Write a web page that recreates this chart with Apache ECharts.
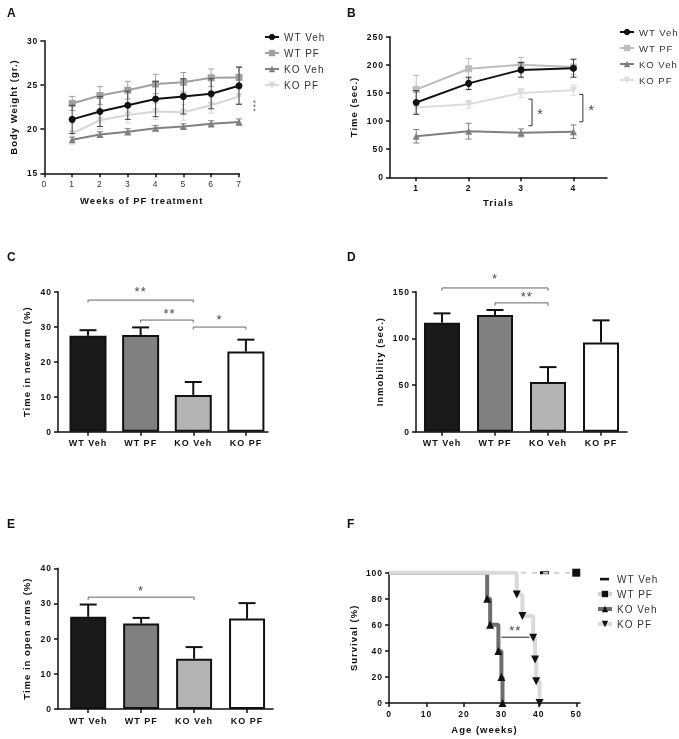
<!DOCTYPE html>
<html><head><meta charset="utf-8">
<script src="https://cdn.jsdelivr.net/npm/echarts@6/dist/echarts.min.js"></script>
<style>
body{margin:0;background:#fff;width:679px;height:739px;position:relative;overflow:hidden}
.p{position:absolute;will-change:transform;opacity:0.999}
svg text{letter-spacing:1px}
</style></head><body>
<div id="A" class="p" style="left:0;top:0;width:340px;height:240px"></div>
<div id="B" class="p" style="left:340px;top:0;width:339px;height:240px"></div>
<div id="C" class="p" style="left:0;top:240px;width:340px;height:260px"></div>
<div id="D" class="p" style="left:340px;top:240px;width:339px;height:260px"></div>
<div id="E" class="p" style="left:0;top:500px;width:340px;height:239px"></div>
<div id="F" class="p" style="left:340px;top:500px;width:339px;height:239px"></div>
<script>
// ---------- DATA ----------
const groupNames = ['WT Veh', 'WT PF', 'KO Veh', 'KO PF'];
const barPositions = [1, 2, 3, 4];

// A: body weight
const weeks = [1, 2, 3, 4, 5, 6, 7];
const bwWTVeh = [21.1, 22.0, 22.7, 23.4, 23.7, 24.0, 24.9];
const bwWTVehErr = [1.6, 1.7, 1.6, 2.0, 2.0, 1.7, 2.1];
const bwWTPF = [22.9, 23.8, 24.4, 25.1, 25.3, 25.8, 25.85];
const bwWTPFErr = [0.8, 1.0, 1.0, 1.1, 1.1, 1.0, 1.2];
const bwKOVeh = [18.8, 19.4, 19.7, 20.1, 20.3, 20.6, 20.8];
const bwKOVehErr = [0.3, 0.3, 0.35, 0.3, 0.3, 0.35, 0.35];
const bwKOPF = [19.5, 21.0, 21.6, 22.0, 21.9, 22.7, 23.7];
const bwKOPFErr = [1.2, 1.0, 0.9, 0.9, 0.9, 0.9, 0.8];

// B: trials
const trials = [1, 2, 3, 4];
const trWTVeh = [133, 167, 191, 194];
const trWTVehErr = [21, 11, 13, 16];
const trWTPF = [156, 193, 200, 196];
const trWTPFErr = [25, 18, 13, 13];
const trKOVeh = [73, 82, 79, 81];
const trKOVehErr = [12, 14, 7, 12];
const trKOPF = [124, 130, 150, 155];
const trKOPFErr = [10, 7, 8, 9];

// C: time in new arm (%)
const newArm = [27.4, 27.6, 10.5, 22.9];
const newArmErr = [1.6, 2.2, 3.7, 3.4];
// D: immobility (sec.)
const immob = [116.8, 125, 53.2, 95.7];
const immobErr = [10, 5.4, 16, 23.6];
// E: time in open arms (%)
const openArms = [26.2, 24.3, 14.3, 25.7];
const openArmsErr = [3.5, 1.6, 3.3, 4.4];

// F: survival (Kaplan-Meier events: [age, survival %])
const survWTVeh = [[0, 100], [41.5, 100]];
const survWTPF = [[0, 100], [50, 100]];
const survKOVeh = [[0, 100], [26.2, 80], [27.0, 60], [29.2, 40], [30.0, 20], [30.3, 0]];
const survKOPF = [[0, 100], [34.1, 83.3], [35.6, 66.7], [38.5, 50], [39.0, 33.3], [39.3, 16.7], [40.2, 0]];
const ageTicks = [0, 10, 20, 30, 40, 50];

// significance annotations (data units)
const sigA = {l1: [[7.33, 26.2], [7.33, 22.7]], l2: [[7.39, 24.5], [7.48, 24.5], [7.48, 20.8], [7.39, 20.8]], txt: [7.6, 22.7, '***']};
const sigB = [
  {line: [[3.14, 139], [3.21, 139], [3.21, 91.7], [3.14, 91.7]], txt: [3.37, 112, '*']},
  {line: [[4.11, 147.5], [4.18, 147.5], [4.18, 98.8], [4.11, 98.8]], txt: [4.35, 120, '*']}
];
const sigC = [
  {line: [[1, 36.9], [1, 37.6], [3, 37.6], [3, 36.9]], txt: [2, 40.0, '**']},
  {line: [[2, 31.2], [2, 31.9], [3, 31.9], [3, 31.2]], txt: [2.55, 33.8, '**']},
  {line: [[3, 29.2], [3, 29.9], [4, 29.9], [4, 29.2]], txt: [3.5, 32.0, '*']}
];
const sigD = [
  {line: [[1, 151], [1, 154], [3, 154], [3, 151]], txt: [2, 164, '*']},
  {line: [[2, 135], [2, 138], [3, 138], [3, 135]], txt: [2.6, 145, '**']}
];
const sigE = [
  {line: [[1, 31.0], [1, 31.8], [3, 31.8], [3, 31.0]], txt: [2, 33.8, '*']}
];
const sigF = {line: [[30.0, 50.5], [37.5, 50.5]], txt: [33.7, 56, '**']};

// ---------- HELPERS ----------
const FONT = '"Liberation Sans", Arial, sans-serif';
const barColors = ['#1a1a1a', '#808080', '#b3b3b3', '#ffffff'];

function ax(extra) {
  const base = {
    axisLine: {show: true, onZero: false, lineStyle: {color: '#111', width: 1.5}},
    axisTick: {show: true, length: 4, lineStyle: {color: '#111', width: 1.5}},
    splitLine: {show: false},
    axisLabel: {color: '#111', fontSize: 8.5, fontWeight: 'bold', fontFamily: FONT, margin: 6},
    nameLocation: 'middle',
    nameTextStyle: {color: '#111', fontSize: 9.5, fontWeight: 'bold', fontFamily: FONT}
  };
  for (const k in extra) {
    if (typeof extra[k] === 'object' && !Array.isArray(extra[k]) && base[k]) base[k] = Object.assign({}, base[k], extra[k]);
    else base[k] = extra[k];
  }
  return base;
}
function title(t, top) {
  return {text: t, left: 2, top: top || 2, textStyle: {fontSize: 12, fontWeight: 'bold', color: '#111', fontFamily: FONT}};
}
function errSeries(xs, ys, errs, color, capW, lw, oneSided, z) {
  return {
    type: 'custom', silent: true, z: z || 1, clip: false,
    encode: {x: 0, y: 1},
    data: ys.map((v, i) => [xs[i], v, errs[i]]),
    renderItem: function (params, api) {
      const x = api.value(0), y = api.value(1), e = api.value(2);
      const top = api.coord([x, y + e]);
      const bot = api.coord([x, oneSided ? y : y - e]);
      const h = capW / 2;
      const st = {stroke: color, lineWidth: lw};
      const ch = [
        {type: 'line', shape: {x1: top[0], y1: top[1], x2: bot[0], y2: bot[1]}, style: st},
        {type: 'line', shape: {x1: top[0] - h, y1: top[1], x2: top[0] + h, y2: top[1]}, style: st}
      ];
      if (!oneSided) ch.push({type: 'line', shape: {x1: bot[0] - h, y1: bot[1], x2: bot[0] + h, y2: bot[1]}, style: st});
      return {type: 'group', children: ch};
    }
  };
}
function lineSeries(name, xs, ys, color, symbol, size, rot, z) {
  return {
    name: name, type: 'line', z: z, data: ys.map((v, i) => [xs[i], v]),
    symbol: symbol, symbolSize: size, symbolRotate: rot || 0, showSymbol: true,
    lineStyle: {color: color, width: 2}, itemStyle: {color: color}
  };
}
function bracket(pts, color) {
  return {type: 'line', data: pts, symbol: 'none', silent: true, clip: false, z: 6,
    lineStyle: {color: color || '#555', width: 1}};
}
function txt(t, size, rotate) {
  return {type: 'scatter', silent: true, clip: false, z: 7, symbolSize: 1,
    itemStyle: {color: 'rgba(0,0,0,0)'},
    data: [{value: [t[0], t[1]], name: t[2]}],
    label: {show: true, formatter: '{b}', position: 'inside', color: '#111', fontSize: size || 13,
      fontFamily: FONT, rotate: rotate || 0}};
}
function legend(left, top, data, fs) {
  return {orient: 'vertical', left: left, top: top, itemWidth: 14, itemHeight: 8, itemGap: 6,
    data: data || groupNames, selectedMode: false,
    textStyle: {fontSize: fs || 10, color: '#333', fontFamily: FONT}};
}
function mk(id) { return echarts.init(document.getElementById(id), null, {renderer: 'svg'}); }

// ---------- A ----------
mk('A').setOption({
  animation: false,
  title: title('A'),
  legend: legend(259, 27),
  grid: {left: 41, top: 40.7, width: 198, height: 132.6},
  xAxis: ax({type: 'value', min: 0, max: 7, interval: 1, name: 'Weeks of PF treatment', nameGap: 22,
    axisLabel: {fontWeight: 'normal', color: '#333'}}),
  yAxis: ax({type: 'value', min: 15, max: 30, interval: 5, name: 'Body Weight (gr.)', nameGap: 20}),
  series: [
    errSeries(weeks, bwKOPF, bwKOPFErr, '#d6d6d6', 6, 1, false, 1),
    lineSeries('KO PF', weeks, bwKOPF, '#d6d6d6', 'triangle', 7, 180, 2),
    errSeries(weeks, bwKOVeh, bwKOVehErr, '#808080', 6, 1, false, 3),
    lineSeries('KO Veh', weeks, bwKOVeh, '#808080', 'triangle', 7, 0, 4),
    errSeries(weeks, bwWTPF, bwWTPFErr, '#a0a0a0', 6, 1, false, 5),
    lineSeries('WT PF', weeks, bwWTPF, '#a0a0a0', 'rect', 7, 0, 6),
    errSeries(weeks, bwWTVeh, bwWTVehErr, '#444', 6, 1, false, 7),
    lineSeries('WT Veh', weeks, bwWTVeh, '#111', 'circle', 7, 0, 8),
    bracket(sigA.l1, '#777'), bracket(sigA.l2, '#777'), txt(sigA.txt, 8, 90)
  ]
});

// ---------- B ----------
mk('B').setOption({
  animation: false,
  title: title('B'),
  legend: legend(274, 22, null, 9.5),
  grid: {left: 50, top: 36.7, width: 217, height: 140.6},
  xAxis: ax({type: 'value', min: 0.5, max: 4.64, name: 'Trials', nameGap: 20,
    axisTick: {customValues: trials}, axisLabel: {customValues: trials}}),
  yAxis: ax({type: 'value', min: 0, max: 250, interval: 50, name: 'Time (sec.)', nameGap: 24}),
  series: [
    errSeries(trials, trKOVeh, trKOVehErr, '#808080', 6, 1, false, 1),
    lineSeries('KO Veh', trials, trKOVeh, '#808080', 'triangle', 7, 0, 2),
    errSeries(trials, trKOPF, trKOPFErr, '#dcdcdc', 6, 1, false, 3),
    lineSeries('KO PF', trials, trKOPF, '#dcdcdc', 'triangle', 7, 180, 4),
    errSeries(trials, trWTPF, trWTPFErr, '#bdbdbd', 6, 1, false, 5),
    lineSeries('WT PF', trials, trWTPF, '#bdbdbd', 'rect', 7, 0, 6),
    errSeries(trials, trWTVeh, trWTVehErr, '#333', 6, 1, false, 7),
    lineSeries('WT Veh', trials, trWTVeh, '#111', 'circle', 7, 0, 8),
    bracket(sigB[0].line, '#333'), txt(sigB[0].txt, 14),
    bracket(sigB[1].line, '#333'), txt(sigB[1].txt, 14)
  ]
});

// ---------- bar panels ----------
function barPanel(id, letter, vals, errs, yMax, yInt, yName, grid, xMin, xMax, nameGap, sig, barW, titleTop) {
  const series = [
    errSeries(barPositions, vals, errs, '#111', 17, 2, true, 1),
    {type: 'bar', z: 2, barWidth: barW,
      data: vals.map((v, i) => ({value: [barPositions[i], v], itemStyle: {color: barColors[i]}})),
      itemStyle: {borderColor: '#111', borderWidth: 2}}
  ];
  sig.forEach(s => { series.push(bracket(s.line, '#666')); series.push(txt(s.txt, 13)); });
  mk(id).setOption({
    animation: false,
    title: title(letter, titleTop),
    grid: grid,
    xAxis: ax({type: 'value', min: xMin, max: xMax,
      axisTick: {customValues: barPositions},
      axisLabel: {customValues: barPositions, formatter: v => groupNames[Math.round(v) - 1], fontSize: 9, margin: 7}}),
    yAxis: ax({type: 'value', min: 0, max: yMax, interval: yInt, name: yName, nameGap: nameGap}),
    series: series
  });
}
barPanel('C', 'C', newArm, newArmErr, 40, 10, 'Time in new arm (%)',
  {left: 58, top: 51.7, width: 210, height: 140}, 0.43, 4.42, 18, sigC, 37, 6);
barPanel('D', 'D', immob, immobErr, 150, 50, 'Inmobility (sec.)',
  {left: 76, top: 51.7, width: 211, height: 140}, 0.51, 4.49, 26, sigD, 36, 6);
barPanel('E', 'E', openArms, openArmsErr, 40, 10, 'Time in open arms (%)',
  {left: 58, top: 68.3, width: 215, height: 140.7}, 0.43, 4.49, 18, sigE, 36, 13);

// ---------- F ----------
function kmData(arr) {
  return arr.map((p, i) => i === 0 ? {value: p, symbol: 'none'} : {value: p});
}
const legendF = [
  {name: 'WT Veh', icon: 'path://M0,0M14,8M2,2.8h9v2.6h-9z'},
  {name: 'WT PF', lineStyle: {width: 4}},
  {name: 'KO Veh', lineStyle: {width: 4}},
  {name: 'KO PF', lineStyle: {width: 4}}
];
mk('F').setOption({
  animation: false,
  title: title('F', 13),
  legend: Object.assign(legend(251, 69, legendF), {itemGap: 5}),
  grid: {left: 39, top: 72.7, width: 201, height: 134},
  xAxis: ax({type: 'value', min: 0, max: 51, name: 'Age (weeks)', nameGap: 21,
    axisTick: {customValues: ageTicks}, axisLabel: {customValues: ageTicks}}),
  yAxis: ax({type: 'value', min: 0, max: 100, interval: 20, name: 'Survival (%)', nameGap: 25}),
  series: [
    {name: 'WT Veh', type: 'line', step: 'end', z: 1, data: kmData(survWTVeh),
      symbol: 'rect', symbolSize: [9, 3], lineStyle: {color: '#111', width: 0, opacity: 0}, itemStyle: {color: '#111'}},
    {name: 'WT PF', type: 'line', step: 'end', z: 2, data: kmData(survWTPF),
      symbol: 'rect', symbolSize: 8, lineStyle: {color: '#cfcfcf', width: 2, type: [5, 6]}, itemStyle: {color: '#111'}},
    {name: 'KO Veh', type: 'line', step: 'end', z: 3, data: kmData(survKOVeh),
      symbol: 'triangle', symbolSize: 8, lineStyle: {color: '#6e6e6e', width: 4}, itemStyle: {color: '#111'}},
    {name: 'KO PF', type: 'line', step: 'end', z: 4, data: kmData(survKOPF),
      symbol: 'triangle', symbolRotate: 180, symbolSize: 8, lineStyle: {color: '#dadada', width: 4}, itemStyle: {color: '#111'}},
    bracket(sigF.line, '#222'), txt(sigF.txt, 13)
  ]
});
</script>
</body></html>
